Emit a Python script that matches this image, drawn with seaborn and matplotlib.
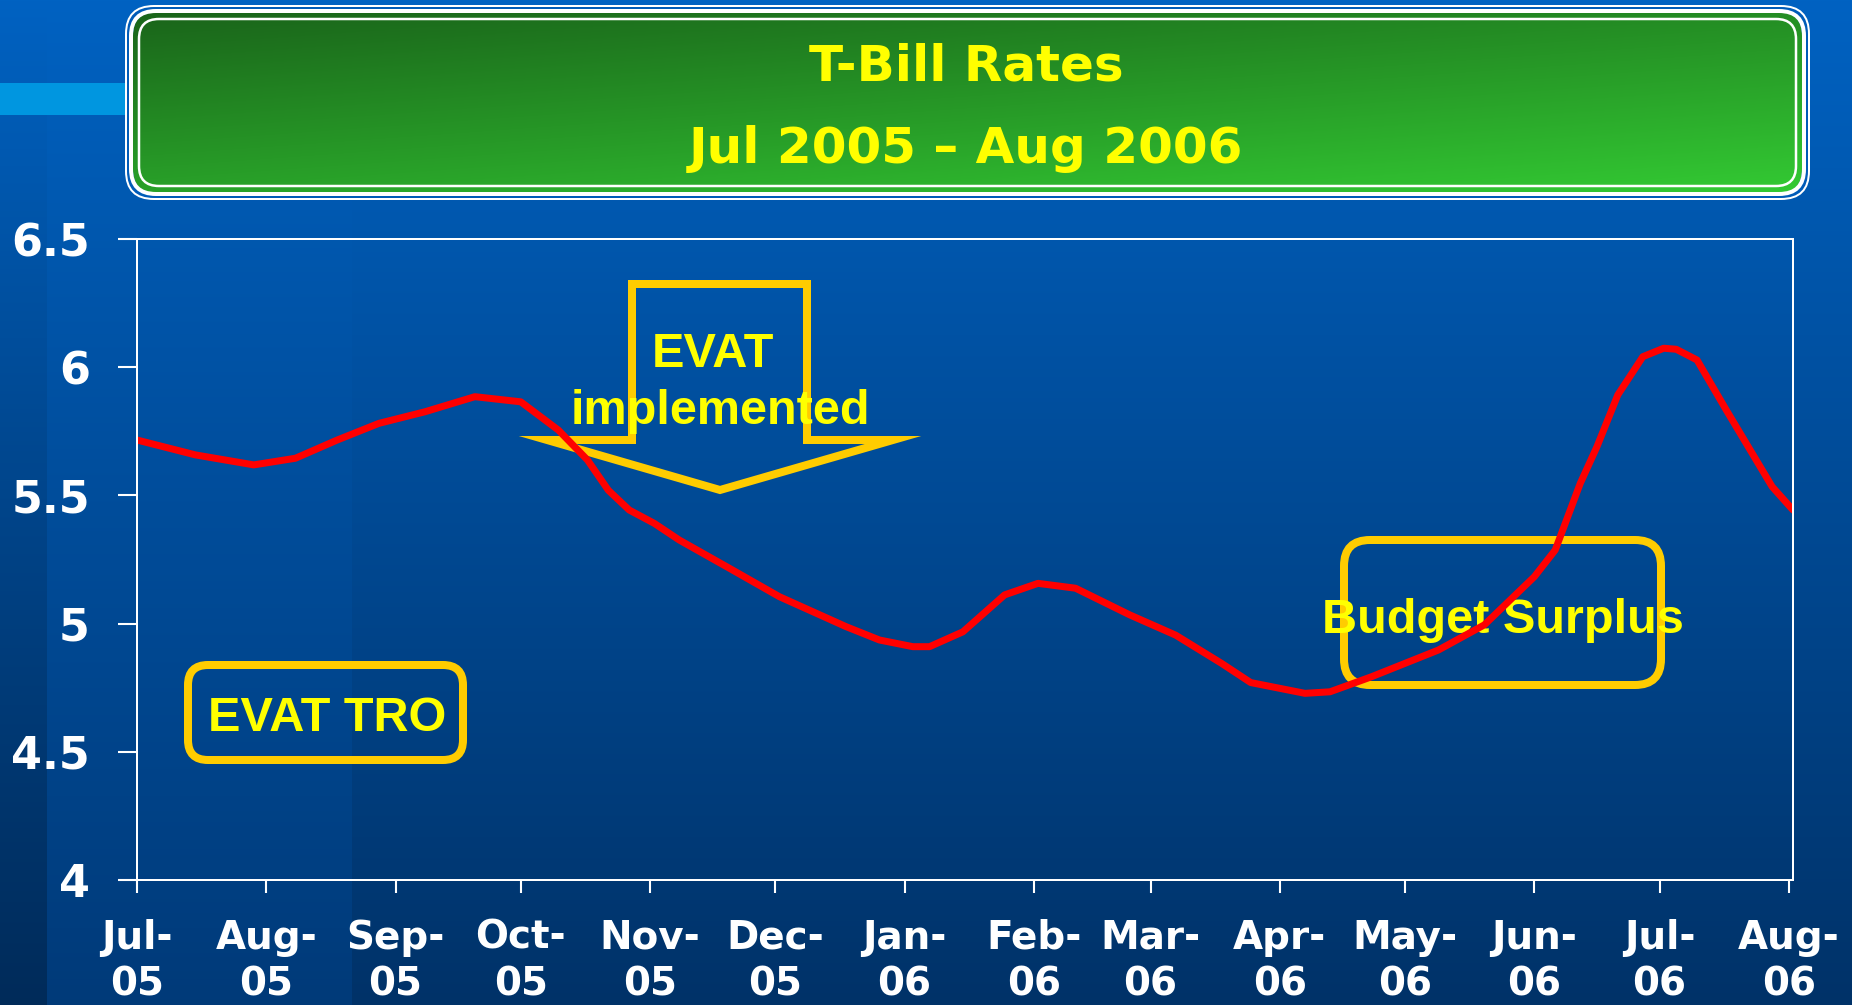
import numpy as np
import pandas as pd
import matplotlib
matplotlib.use("Agg")
import matplotlib.pyplot as plt
import seaborn as sns
from matplotlib.patches import FancyBboxPatch, Polygon, Rectangle

# ---------------- data ----------------
dates = ["2005-07-01", "2005-07-15", "2005-07-29", "2005-08-08", "2005-08-18",
         "2005-08-28", "2005-09-08", "2005-09-20", "2005-10-01", "2005-10-10",
         "2005-10-17", "2005-10-22", "2005-10-27", "2005-11-02", "2005-11-08",
         "2005-11-20", "2005-12-02", "2005-12-18", "2005-12-26", "2006-01-03",
         "2006-01-07", "2006-01-15", "2006-01-25", "2006-02-02", "2006-02-11",
         "2006-02-24", "2006-03-07", "2006-03-18", "2006-03-25", "2006-04-07",
         "2006-04-13", "2006-04-23", "2006-05-09", "2006-05-20", "2006-06-01",
         "2006-06-06", "2006-06-09", "2006-06-12", "2006-06-16", "2006-06-21",
         "2006-06-27", "2006-07-02", "2006-07-05", "2006-07-10", "2006-07-17",
         "2006-07-28", "2006-08-02"]
rates = [5.716, 5.658, 5.619, 5.645, 5.716,
         5.781, 5.826, 5.885, 5.865, 5.755,
         5.638, 5.520, 5.443, 5.391, 5.326,
         5.216, 5.105, 4.988, 4.936, 4.910,
         4.910, 4.968, 5.112, 5.157, 5.138,
         5.034, 4.955, 4.845, 4.770, 4.728,
         4.734, 4.793, 4.897, 4.995, 5.183,
         5.287, 5.417, 5.547, 5.690, 5.892,
         6.041, 6.074, 6.070, 6.028, 5.833,
         5.534, 5.443]
tick_dates = ["2005-07-01", "2005-08-01", "2005-09-01", "2005-10-01", "2005-11-01",
              "2005-12-01", "2006-01-01", "2006-02-01", "2006-03-01", "2006-04-01",
              "2006-05-01", "2006-06-01", "2006-07-01", "2006-08-01"]
tick_labels = ["Jul-\n05", "Aug-\n05", "Sep-\n05", "Oct-\n05", "Nov-\n05", "Dec-\n05",
               "Jan-\n06", "Feb-\n06", "Mar-\n06", "Apr-\n06", "May-\n06", "Jun-\n06",
               "Jul-\n06", "Aug-\n06"]
y_ticks = [4, 4.5, 5, 5.5, 6, 6.5]
y_labels = ["4", "4.5", "5", "5.5", "6", "6.5"]
title_lines = ["T-Bill Rates", "Jul 2005 \u2013 Aug 2006"]
note_tro = "EVAT TRO"
note_evat = ["EVAT", "implemented"]
note_budget = "Budget Surplus"

df = pd.DataFrame({"date": pd.to_datetime(dates), "rate": rates})

# ---------------- figure ----------------
sns.set_theme(style="white")
plt.rcParams["font.family"] = ["DejaVu Sans"]

W, H = 1852, 1005
fig = plt.figure(figsize=(W / 100, H / 100), dpi=100)

# background axes in pixel coordinates (y down)
bg = fig.add_axes([0, 0, 1, 1], zorder=-10)
bg.set_xlim(0, W)
bg.set_ylim(H, 0)
bg.axis("off")

v = np.linspace(0, 1, H)[:, None, None]
top = np.array([0, 98, 194]) / 255
bot = np.array([0, 50, 104]) / 255
img = top * (1 - v) + bot * v
img = np.broadcast_to(img, (H, W, 3)).copy()
fac = np.ones((H, W, 1))
fac[:, :47, :] = (1 - 0.14 * v[:, 0:1, :]) * np.ones((H, 47, 1))
fac[:, 47:352, :] = (1 + 0.16 * v[:, 0:1, :] ** 2) * np.ones((H, 352 - 47, 1))
img = np.clip(img * fac, 0, 1)
bg.imshow(img, extent=[0, W, H, 0], aspect="auto", zorder=0, interpolation="bilinear")

# light blue bar
bg.add_patch(Rectangle((0, 83), 130, 32, facecolor="#0096E0", edgecolor="none", zorder=1))


def rbox(x0, y0, x1, y1, r, **kw):
    return FancyBboxPatch((x0, y0), x1 - x0, y1 - y0,
                          boxstyle=f"round,pad=0,rounding_size={r}", **kw)


px = 0.72  # points per pixel
# title box
bg.add_patch(rbox(126, 6, 1809, 199, 28, facecolor="#005BB8", edgecolor="white", lw=2 * px, zorder=2))
fill = rbox(133, 12, 1802, 193, 24, facecolor="none", edgecolor="none", zorder=3)
bg.add_patch(fill)
gh, gw = 200, 400
gv = np.linspace(0, 1, gh)[:, None, None]
gu = np.linspace(0, 1, gw)[None, :, None]
t = np.clip(0.6 * gv + 0.4 * gu, 0, 1)
dark = np.array([26, 100, 26]) / 255
light = np.array([51, 202, 51]) / 255
gimg = dark * (1 - t) + light * t
gi = bg.imshow(gimg, extent=[133, 1802, 193, 12], aspect="auto", zorder=3, interpolation="bilinear")
gi.set_clip_path(fill)
bg.add_patch(rbox(131, 11, 1804, 194, 25, facecolor="none", edgecolor="white", lw=4 * px, zorder=4))
bg.add_patch(rbox(139, 19, 1796, 186, 20, facecolor="none", edgecolor="white", lw=2.5 * px, zorder=4))

bg.text(966, 80, title_lines[0], color="#FFFF00", fontsize=36, fontweight="bold",
        ha="center", va="baseline", zorder=5)
bg.text(966, 163, title_lines[1], color="#FFFF00", fontsize=36, fontweight="bold",
        ha="center", va="baseline", zorder=5)

# annotations
gold = "#FFCC00"
yellow = "#FFFF00"
ann_font = ["Liberation Sans", "DejaVu Sans"]
ann_size = 35
bg.add_patch(rbox(188, 665, 463, 760, 20, facecolor="none", edgecolor=gold, lw=8 * px, zorder=2))
bg.text(327, 731, note_tro, color=yellow, fontsize=ann_size, fontweight="bold", family=ann_font,
        ha="center", va="baseline", zorder=3)

bg.add_patch(rbox(1344, 540, 1661, 685, 26, facecolor="none", edgecolor=gold, lw=8 * px, zorder=2))
bg.text(1503, 633, note_budget, color=yellow, fontsize=ann_size, fontweight="bold", family=ann_font,
        ha="center", va="baseline", zorder=3)

arrow_pts = [(632, 284), (807, 284), (807, 440), (893, 440), (720, 490), (547, 440), (632, 440)]
bg.add_patch(Polygon(arrow_pts, closed=True, facecolor="none", edgecolor=gold,
                     lw=8 * px, joinstyle="miter", zorder=2))
bg.text(713, 367, note_evat[0], color=yellow, fontsize=ann_size, fontweight="bold", family=ann_font,
        ha="center", va="baseline", zorder=3)
bg.text(720, 424, note_evat[1], color=yellow, fontsize=ann_size, fontweight="bold", family=ann_font,
        ha="center", va="baseline", zorder=3)

# main axes
L, R, T, B = 137, 1793, 239, 880
ax = fig.add_axes([L / W, 1 - B / H, (R - L) / W, (B - T) / H], zorder=1)
ax.set_facecolor("none")
sns.lineplot(data=df, x="date", y="rate", ax=ax, color="#FF0000", lw=7 * px,
             solid_capstyle="round", solid_joinstyle="round", estimator=None, sort=False)
ax.set_xlim(pd.Timestamp("2005-07-01"), pd.Timestamp("2006-08-02"))
ax.set_ylim(4, 6.5)
ax.set_xlabel("")
ax.set_ylabel("")
ax.set_xticks(pd.to_datetime(tick_dates))
ax.set_xticklabels(tick_labels, linespacing=1.28)
ax.set_yticks(y_ticks)
ax.set_yticklabels(y_labels)
for s in ax.spines.values():
    s.set_visible(True)
    s.set_color("white")
    s.set_linewidth(2 * px)
ax.tick_params(axis="y", direction="out", length=14, width=1.5, colors="white",
               labelsize=32, pad=20, left=True)
ax.tick_params(axis="x", direction="out", length=9, width=1.5, colors="white",
               labelsize=28, pad=19, bottom=True)
for lab in ax.get_xticklabels() + ax.get_yticklabels():
    lab.set_fontweight("bold")
    lab.set_color("white")
ax.grid(False)

fig.savefig("out.png", dpi=100)
